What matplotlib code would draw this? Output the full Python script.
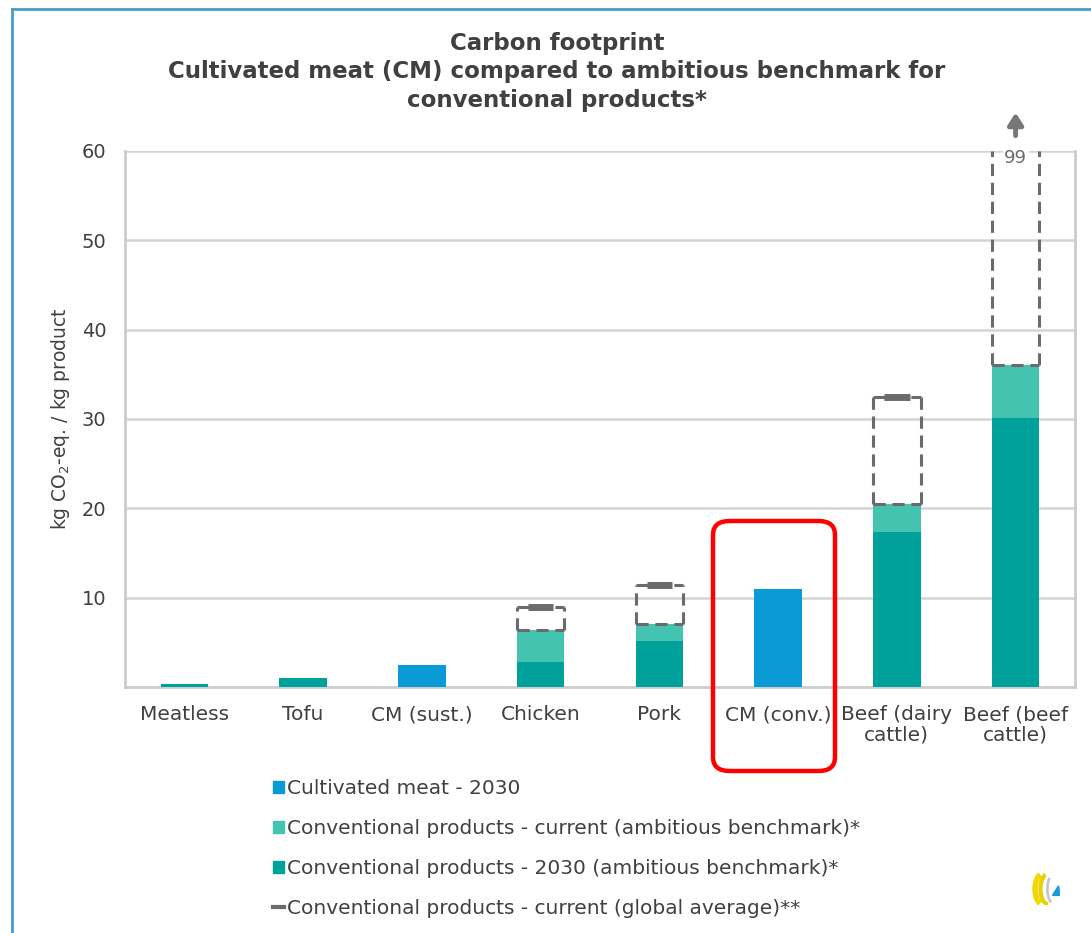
import numpy as np
import matplotlib.pyplot as plt
from matplotlib.patches import FancyBboxPatch, Patch, Polygon, Arc
from matplotlib.lines import Line2D

# categories and footprint values (kg CO2-eq. / kg product)
products = ["Meatless", "Tofu", "CM (sust.)", "Chicken", "Pork", "CM (conv.)",
            "Beef (dairy\ncattle)", "Beef (beef\ncattle)"]
cultivated_2030 = [0, 0, 2.5, 0, 0, 11.0, 0, 0]
conv_2030 = [0.3, 1.0, 0, 2.8, 5.2, 0, 17.4, 30.1]
conv_current = [0, 0, 0, 6.4, 7.0, 0, 20.5, 36.0]
global_avg = [None, None, None, 9.0, 11.4, None, 32.5, 99]

c_blue = "#0a9ad6"
c_light = "#45c3b1"
c_dark = "#00a09b"
c_gray = "#6b6b6b"
txt = "#404040"

fig = plt.figure(figsize=(10.91, 9.33), dpi=100)
ax = fig.add_axes([0.1146, 0.2637, 0.8707, 0.5745])

x = np.arange(len(products))
w = 0.40
ymax = 60

ax.bar(x, cultivated_2030, width=w, color=c_blue, zorder=3)
# current benchmark stacks above the 2030 part
top_cur = [max(c, d) for c, d in zip(conv_current, conv_2030)]
ax.bar(x, top_cur, width=w, color=c_light, zorder=2)
ax.bar(x, conv_2030, width=w, color=c_dark, zorder=3)

# dashed boxes up to the global average
for xi, lo, hi in zip(x, conv_current, global_avg):
    if hi is None:
        continue
    top = min(hi, ymax)
    kw = dict(color=c_gray, lw=2.2, ls=(0, (4, 2.2)), zorder=4, clip_on=False)
    ax.plot([xi - w / 2, xi - w / 2], [lo, top], **kw)
    ax.plot([xi + w / 2, xi + w / 2], [lo, top], **kw)
    ax.plot([xi - w / 2, xi + w / 2], [lo, lo], **kw)
    if hi <= ymax:
        ax.plot([xi - w / 2, xi + w / 2], [top, top], **kw)
        ax.plot([xi - w * 0.27, xi + w * 0.27], [top, top], color=c_gray,
                lw=5, solid_capstyle="butt", zorder=5)
    else:
        ax.text(xi, top - 0.8, f"{hi:g}", ha="center", va="center",
                fontsize=13, color=c_gray, zorder=5,
                bbox=dict(fc="white", ec="none", pad=1))
        ax.annotate("", xy=(xi, 64.6), xytext=(xi, 61.4),
                    arrowprops=dict(arrowstyle="-|>,head_width=0.45,head_length=0.7",
                                    color="#777777", lw=3.5),
                    annotation_clip=False)

ax.set_xlim(-0.5, len(products) - 0.5)
ax.set_ylim(0, ymax)
ax.set_yticks([10, 20, 30, 40, 50, 60])
ax.set_xticks(x)
ax.set_xticklabels(products, fontsize=14.5, color=txt, linespacing=1.1)
ax.tick_params(axis="x", length=0, pad=13, labelcolor=txt)
ax.tick_params(axis="y", length=0, labelsize=14, labelcolor=txt, pad=31)
for lbl in ax.get_yticklabels():
    lbl.set_horizontalalignment("left")
ax.grid(axis="y", color="#d4d4d4", lw=1.8, zorder=0)
ax.set_axisbelow(True)
for side in ["left", "bottom", "right"]:
    ax.spines[side].set_color("#cccccc")
    ax.spines[side].set_linewidth(2)
ax.spines["top"].set_visible(False)
ax.set_ylabel(r"kg CO$_2$-eq. / kg product", fontsize=13.5, color=txt)
ax.yaxis.set_label_coords(-0.056, 0.5)

fig.text(0.5105, 0.966, "Carbon footprint\nCultivated meat (CM) compared to ambitious benchmark for\nconventional products*",
         ha="center", va="top", fontsize=16.5, fontweight="bold", color=txt, linespacing=1.3)

# highlight around the conventional cultivated meat bar
hl = FancyBboxPatch((713 / 1091, 1 - 771 / 933), 122 / 1091, 250 / 933,
                    boxstyle="round,pad=0,rounding_size=0.015", transform=fig.transFigure,
                    fill=False, ec="#ff0000", lw=3.2, zorder=10)
fig.patches.append(hl)

handles = [Patch(color=c_blue), Patch(color=c_light), Patch(color=c_dark),
           Line2D([0], [0], color=c_gray, lw=3)]
labels = ["Cultivated meat - 2030",
          "Conventional products - current (ambitious benchmark)*",
          "Conventional products - 2030 (ambitious benchmark)*",
          "Conventional products - current (global average)**"]
leg = fig.legend(handles, labels, loc="upper left", bbox_to_anchor=(0.241, 0.176),
                 frameon=False, fontsize=14.5, handlelength=0.55, handleheight=0.55,
                 handletextpad=0.15, labelspacing=1.04, borderpad=0)
for t in leg.get_texts():
    t.set_color(txt)

# outer frame lines
fig.add_artist(Line2D([12 / 1091, 1], [1 - 9 / 933] * 2, transform=fig.transFigure,
                      color="#4b9cc6", lw=2))
fig.add_artist(Line2D([12 / 1091] * 2, [0, 1 - 9 / 933], transform=fig.transFigure,
                      color="#4b9cc6", lw=2))

# small logo
lax = fig.add_axes([1030 / 1091, 1 - 905 / 933, 30 / 1091, 32 / 933])
lax.set_xlim(0, 1)
lax.set_ylim(0, 1)
lax.axis("off")
lax.add_patch(Arc((0.42, 0.5), 0.5, 0.95, theta1=100, theta2=260, color="#f0d800", lw=4))
lax.add_patch(Arc((0.6, 0.5), 0.5, 0.95, theta1=100, theta2=270, color="#e6d200", lw=3))
lax.add_patch(Arc((0.78, 0.5), 0.4, 0.9, theta1=110, theta2=260, color="#c8c8c8", lw=2))
lax.add_patch(Polygon([[0.75, 0.3], [1.0, 0.3], [0.95, 0.6]], color="#1a9ad8"))

fig.savefig("out.png", dpi=100)
